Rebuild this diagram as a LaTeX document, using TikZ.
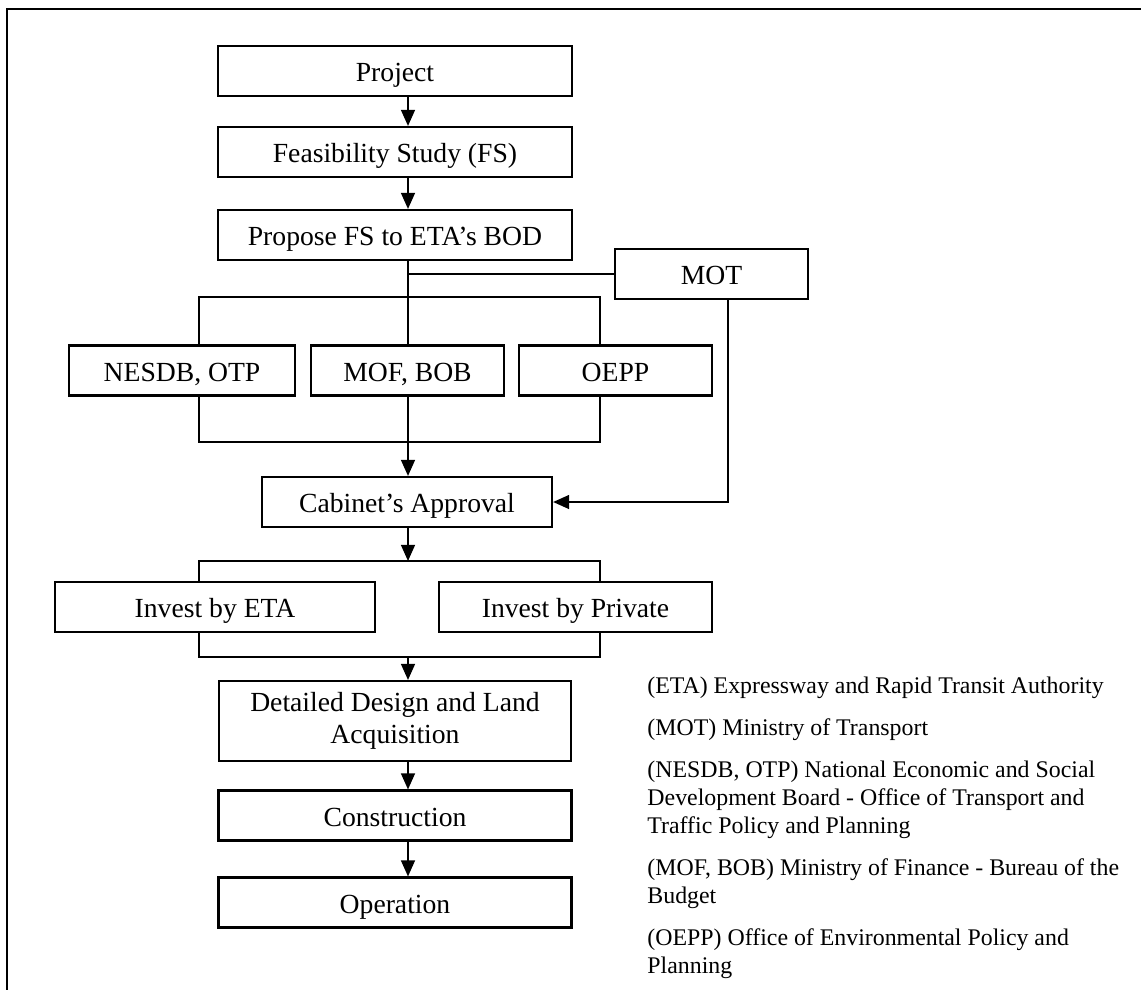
\documentclass[tikz,border=0pt]{standalone}
\usepackage{fontspec}
\setmainfont{Liberation Serif}
\usetikzlibrary{arrows.meta,positioning,calc}
\tikzset{
  >={Triangle[length=7pt,width=6pt]},
  box/.style={draw,line width=0.9pt,inner sep=0pt,minimum height=21.7pt,font=\fontsize{12}{13.8}\selectfont,text height=9.2pt,text depth=0pt,align=center},
  ln/.style={line width=0.9pt},
  arr/.style={ln,->},
  key/.style={anchor=base west,inner sep=0pt,font=\fontsize{10.35}{12}\selectfont},
}

\begin{document}
\begin{tikzpicture}[x=0.434pt,y=-0.434pt]
\useasboundingbox (0,0) rectangle (1141,989);
% outer frame (right and bottom edges run off the page)
\draw[line width=1.1pt] (7,1000) -- (7,9) -- (1150,9);

% x of the spine and of the branch legs, y of the branch bars
\coordinate (sp) at (408,0);
\coordinate (bl) at (199,0);
\coordinate (br) at (600,0);
\coordinate (mr) at (728,0);
\coordinate (t1) at (0,297);
\coordinate (m1) at (0,442);
\coordinate (t2) at (0,561);
\coordinate (m2) at (0,657);

\node[box,minimum width=153.6pt] (prj) at (395,71) {Project};
\node[box,minimum width=153.6pt] (fs) at (395,152) {Feasibility Study (FS)};
\node[box,minimum width=153.6pt] (prop) at (395,235) {Propose FS to ETA's BOD};
\node[box,minimum width=83.8pt] (mot) at (711.5,274) {MOT};
\node[box,minimum width=98.1pt] (nes) at (182,370.5) {NESDB, OTP};
\node[box,minimum width=83.8pt] (mof) at (407.5,370.5) {MOF, BOB};
\node[box,minimum width=83.8pt] (oepp) at (615.5,370.5) {OEPP};
\node[box,minimum width=125.9pt] (cab) at (407,502) {Cabinet's Approval};
\node[box,minimum width=138.9pt] (eta) at (215,607) {Invest by ETA};
\node[box,minimum width=118.5pt] (prv) at (575.5,607) {Invest by Private};
\node[box,minimum width=152.8pt,minimum height=34.7pt,text height=,text depth=] (dd) at (395,721) {Detailed Design and Land\\Acquisition};
\node[box,minimum width=153.2pt] (con) at (395,815.5) {Construction};
\node[box,minimum width=153.2pt] (op) at (395,902.5) {Operation};

\foreach \u/\v in {prj/fs,fs/prop,dd/con,con/op} \draw[arr] (\u.south -| sp) -- (\v.north -| sp);
\draw[ln] (prop.south -| sp) -- (mof.north -| sp);
\draw[ln] (sp |- mot.west) -- (mot.west);
\draw[ln] (nes.north -| bl) |- (t1 -| br) -- (oepp.north -| br);
\draw[ln] (nes.south -| bl) |- (m1 -| br) -- (oepp.south -| br);
\draw[arr] (mof.south -| sp) -- (cab.north -| sp);
\draw[arr] (mot.south -| mr) |- (cab.east);
\draw[arr] (cab.south -| sp) -- (t2 -| sp);
\draw[ln] (eta.north -| bl) |- (t2 -| br) -- (prv.north -| br);
\draw[ln] (eta.south -| bl) |- (m2 -| br) -- (prv.south -| br);
\draw[arr] (m2 -| sp) -- (dd.north -| sp);

% abbreviations
\foreach \i/\yy/\t in {1/693/{(ETA) Expressway and Rapid Transit Authority},
  2/735/{(MOT) Ministry of Transport},
  3/777/{(NESDB, OTP) National Economic and Social},
  4/805/{Development Board - Office of Transport and},
  5/833/{Traffic Policy and Planning},
  6/875/{(MOF, BOB) Ministry of Finance - Bureau of the},
  7/903/{Budget},
  8/945/{(OEPP) Office of Environmental Policy and},
  9/973/{Planning}}
  \node[key] (key\i) at (647,\yy) {\t};
\end{tikzpicture}
\end{document}
